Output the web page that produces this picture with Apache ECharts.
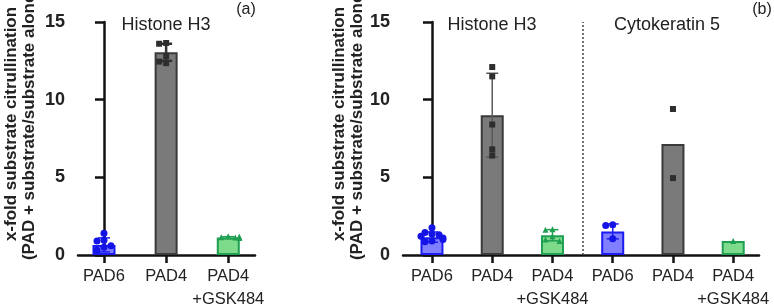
<!DOCTYPE html>
<html>
<head>
<meta charset="utf-8">
<script src="https://cdn.jsdelivr.net/npm/echarts@6/dist/echarts.min.js"></script>
<style>html,body{margin:0;padding:0;background:#fff}#c{width:774px;height:306px}</style>
</head>
<body>
<div id="c"></div>
<script>
// ---- data ----
const catsA = ['PAD6', 'PAD4', 'PAD4\n+GSK484'];
const catsB = ['PAD6', 'PAD4', 'PAD4\n+GSK484', 'PAD6', 'PAD4', 'PAD4\n+GSK484'];
const meanA = [0.65, 13.05, 1.12];
const sdA = [0.45, 0.55, 0.06];
const ptsA = [
  [1.4, 0.95, 0.9, 0.6, 0.5, 0.3],
  [13.65, 13.6, 12.8, 12.45, 12.35],
  [1.2, 1.15, 1.12, 1.18, 1.1, 1.14]
];
const meanB = [1.15, 9.0, 1.27, 1.52, 7.15, 0.9];
const sdB = [0.33, 2.7, 0.36, 0.48, 0, 0];
const ptsB = [
  [1.75, 1.45, 1.35, 1.3, 1.2, 1.1, 1.0, 0.9, 0.85],
  [12.1, 11.5, 8.4, 6.8, 6.4],
  [1.65, 1.62, 1.2, 1.0, 0.9],
  [1.95, 1.9, 1.05],
  [9.4, 4.95],
  [0.9]
];
const yTicks = [0, 5, 10, 15];
const panelTitles = ['Histone H3', 'Histone H3', 'Cytokeratin 5'];
const yTitle = 'x-fold substrate citrullination\n(PAD + substrate/substrate alone)';

// ---- styles ----
const FONT = '"Liberation Sans", Arial, Helvetica, sans-serif';
const fills = ['#7f7fff', '#7a7a7a', '#7edb8c'];
const borders = ['#1c1cf2', '#3a3a3a', '#1f9f52'];
const pointCol = ['#1414e6', '#2e2e2e', '#1f9f52'];
const symbols = ['circle', 'rect', 'triangle'];
const symSizes = [7, 6, 6];

function beeswarm(vals, cat, pxX, pxY) {
  const placed = [];
  const out = [];
  const offs = [0, -7, 7, -11, 11];
  vals.forEach(v => {
    const y = v * pxY;
    let chosen = offs[offs.length - 1];
    for (const o of offs) {
      if (placed.every(p => Math.hypot(p.x - o, p.y - y) >= 5.5)) { chosen = o; break; }
    }
    placed.push({ x: chosen, y: y });
    out.push([cat + chosen / pxX, v]);
  });
  return out;
}

function buildPanel(gi, means, sds, pts, pxX, errCols, errW) {
  const series = [];
  series.push({
    type: 'bar', xAxisIndex: gi, yAxisIndex: gi, barWidth: 23,
    data: means.map((m, i) => ({
      value: [i, m],
      itemStyle: { color: fills[i % 3], borderColor: borders[i % 3], borderWidth: 2 }
    })),
    z: 2
  });
  series.push({
    type: 'custom', xAxisIndex: gi, yAxisIndex: gi, z: 3,
    data: means.map((m, i) => [i, m, sds[i]]),
    renderItem: function (params, api) {
      const x = api.value(0), m = api.value(1), s = api.value(2);
      if (!(s > 0)) return null;
      const t = api.coord([x, m + s]);
      const b = api.coord([x, m - s]);
      const col = errCols[x % 3];
      const st = { stroke: col, lineWidth: errW[x % 3] };
      return {
        type: 'group', children: [
          { type: 'line', shape: { x1: t[0], y1: t[1], x2: b[0], y2: b[1] }, style: st },
          { type: 'line', shape: { x1: t[0] - 6, y1: t[1], x2: t[0] + 6, y2: t[1] }, style: st },
          { type: 'line', shape: { x1: b[0] - 6, y1: b[1], x2: b[0] + 6, y2: b[1] }, style: st }
        ]
      };
    }
  });
  for (let k = 0; k < 3; k++) {
    let d = [];
    pts.forEach((arr, i) => { if (i % 3 === k) d = d.concat(beeswarm(arr, i, pxX, 15.53)); });
    series.push({
      type: 'scatter', xAxisIndex: gi, yAxisIndex: gi, z: 4,
      symbol: symbols[k], symbolSize: symSizes[k],
      itemStyle: { color: pointCol[k], opacity: 1 },
      data: d
    });
  }
  return series;
}

const seriesA = buildPanel(0, meanA, sdA, ptsA, 62.1, ['#1c1cf2', '#333333', '#1f9f52'], [1.5, 2.5, 1.5]);
const seriesB = buildPanel(1, meanB, sdB, ptsB, 60.24, ['#1c1cf2', '#5a5a5a', '#1f9f52'], [1.5, 1.5, 1.5]);
seriesB[0].markLine = {
  silent: true, symbol: ['none', 'none'], label: { show: false },
  lineStyle: { type: [2, 2], color: '#444', width: 1.5 },
  data: [{ xAxis: 2.5 }]
};

function xAxisCfg(gi, cats, min, max) {
  const ticks = cats.map((c, i) => i);
  return {
    gridIndex: gi, type: 'value', min: min, max: max,
    axisLine: { lineStyle: { color: '#111', width: 2.5 } },
    axisTick: { customValues: ticks, length: 8, lineStyle: { color: '#111', width: 2.5 } },
    axisLabel: {
      customValues: ticks, formatter: v => cats[Math.round(v)],
      fontFamily: FONT, fontSize: 16.5, color: '#222', lineHeight: 23, margin: 10
    },
    splitLine: { show: false }
  };
}
function yAxisCfg(gi) {
  return {
    gridIndex: gi, type: 'value', min: yTicks[0], max: yTicks[yTicks.length - 1], interval: 5,
    axisLine: { show: true, lineStyle: { color: '#111', width: 2.5 } },
    axisTick: { show: true, length: 9, lineStyle: { color: '#111', width: 2.5 } },
    axisLabel: { fontFamily: FONT, fontSize: 18, fontWeight: 'bold', color: '#222', margin: 13 },
    splitLine: { show: false }
  };
}

function txt(x, y, text, size) {
  return {
    type: 'text', x: x, y: y, silent: true,
    style: {
      text: text, font: size + 'px ' + FONT, fill: '#222',
      textAlign: 'center', textVerticalAlign: 'middle'
    }
  };
}
function ytitle(x) {
  return {
    type: 'text', x: x, y: 124, rotation: Math.PI / 2, silent: true,
    style: {
      text: yTitle, font: 'bold 17px ' + FONT, fill: '#222',
      textAlign: 'center', textVerticalAlign: 'middle', lineHeight: 18
    }
  };
}

const chart = echarts.init(document.getElementById('c'), null, { renderer: 'canvas' });
chart.setOption({
  animation: false,
  backgroundColor: '#fff',
  grid: [
    { left: 78, top: 22, width: 177, height: 233, containLabel: false, outerBoundsMode: 'none' },
    { left: 403, top: 22, width: 356, height: 233, containLabel: false, outerBoundsMode: 'none' }
  ],
  xAxis: [xAxisCfg(0, catsA, -0.418, 2.43), xAxisCfg(1, catsB, -0.481, 5.428)],
  yAxis: [yAxisCfg(0), yAxisCfg(1)],
  graphic: [
    txt(166, 25, panelTitles[0], 18),
    txt(492, 25, panelTitles[1], 18),
    txt(667, 25, panelTitles[2], 18),
    txt(246, 10, '(a)', 16),
    txt(762, 10, '(b)', 16),
    ytitle(20),
    ytitle(348.5)
  ],
  series: seriesA.concat(seriesB)
});
</script>
</body>
</html>
